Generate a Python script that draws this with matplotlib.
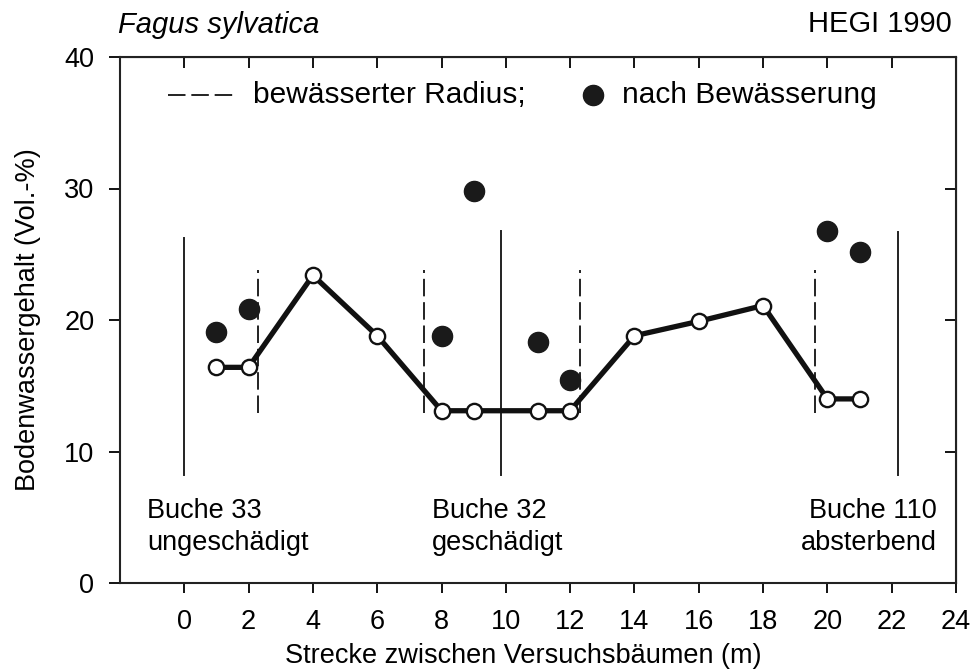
import matplotlib.pyplot as plt

plt.rcParams['font.family'] = ['Liberation Sans', 'DejaVu Sans']

# Bodenwassergehalt vor Bewässerung (offene Kreise, Linie)
strecke_vor = [1, 2, 4, 6, 8, 9, 11, 12, 14, 16, 18, 20, 21]
wasser_vor = [16.4, 16.4, 23.4, 18.8, 13.1, 13.1, 13.1, 13.1, 18.8, 19.9, 21.1, 14.0, 14.0]

# nach Bewässerung (gefüllte Punkte)
strecke_nach = [1, 2, 8, 9, 11, 12, 20, 21]
wasser_nach = [19.1, 20.8, 18.8, 29.8, 18.3, 15.4, 26.8, 25.2]

# bewässerter Radius (gestrichelte Linien)
radius_x = [2.3, 7.45, 12.3, 19.6]
radius_von, radius_bis = 12.9, 23.8

# Standorte der Versuchsbäume
baum_x = [0, 9.85, 22.2]
baum_oben = [26.2, 26.8, 26.7]
baum_unten = 8.2
baum_namen = ['Buche 33\nungeschädigt', 'Buche 32\ngeschädigt', 'Buche 110\nabsterbend']

x_ticks = list(range(0, 25, 2))
y_ticks = [0, 10, 20, 30, 40]

fs = 19.5
strich = (9, 3)

fig = plt.figure(figsize=(9.79, 6.71), dpi=100)
ax = fig.add_axes([120 / 979, 1 - 583 / 671, 836 / 979, 526 / 671])

for xb, yo in zip(baum_x, baum_oben):
    ax.plot([xb, xb], [baum_unten, yo], color='#222222', lw=1.4)

for xr in radius_x:
    ax.plot([xr, xr], [radius_von, radius_bis], color='#222222', lw=1.4,
            dashes=strich)

ax.plot(strecke_vor, wasser_vor, color='#111111', lw=3.8, marker='o',
        markersize=11, markerfacecolor='white', markeredgecolor='#111111',
        markeredgewidth=1.7, zorder=3)
ax.plot(strecke_nach, wasser_nach, linestyle='none', marker='o', markersize=14.5,
        color='#1a1a1a', zorder=3)

# Legende im Diagramm
ax.plot([0.057, 0.14], [0.928, 0.928], transform=ax.transAxes, color='#222222',
        lw=1.4, dashes=strich)
ax.text(0.159, 0.928, 'bewässerter Radius;', transform=ax.transAxes, fontsize=21.5,
        va='center', ha='left')
ax.plot([0.566], [0.928], transform=ax.transAxes, marker='o', markersize=14.5,
        color='#1a1a1a', linestyle='none')
ax.text(0.600, 0.928, 'nach Bewässerung', transform=ax.transAxes, fontsize=21.5,
        va='center', ha='left')

# Baumbeschriftungen
ax.text(-1.15, 6.5, baum_namen[0], fontsize=fs, ha='left', va='top', linespacing=1.3)
ax.text(7.7, 6.5, baum_namen[1], fontsize=fs, ha='left', va='top', linespacing=1.3)
ax.text(23.4, 6.5, baum_namen[2], fontsize=fs, ha='right', va='top', linespacing=1.3)

ax.set_xlim(-2, 24)
ax.set_ylim(0, 40)
ax.set_xticks(x_ticks)
ax.set_yticks(y_ticks)
ax.tick_params(axis='y', direction='out', length=8, width=1.3, labelsize=fs, pad=10.5)
ax.tick_params(axis='x', direction='out', length=7.5, width=1.3, labelsize=fs, pad=11.5)
for s in ax.spines.values():
    s.set_linewidth(1.5)
    s.set_color('#222222')

oben = ax.secondary_xaxis('top')
oben.set_xticks(x_ticks[:-1])
oben.tick_params(direction='in', length=8, width=1.3, labeltop=False)
rechts = ax.secondary_yaxis('right')
rechts.set_yticks([10, 20, 30])
rechts.tick_params(direction='in', length=8, width=1.3, labelright=False)

ax.set_xlabel('Strecke zwischen Versuchsbäumen (m)', fontsize=fs)
ax.set_ylabel('Bodenwassergehalt (Vol.-%)', fontsize=fs)
ax.xaxis.set_label_coords(0.482, -0.115)
ax.yaxis.set_label_coords(-0.094, 0.5)

fig.text(118 / 979, 1 - 25 / 671, 'Fagus sylvatica', fontsize=21, style='italic',
         ha='left', va='center')
fig.text(952 / 979, 1 - 24 / 671, 'HEGI 1990', fontsize=21, ha='right', va='center')

fig.savefig('out.png', dpi=100)
